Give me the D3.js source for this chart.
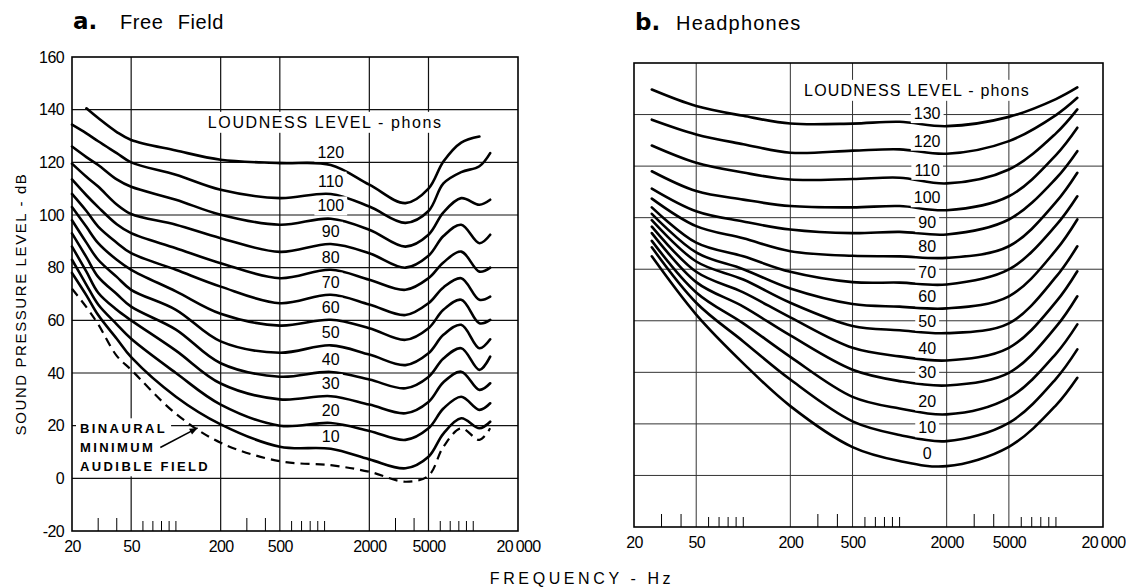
<!DOCTYPE html>
<html>
<head>
<meta charset="utf-8">
<title>Equal loudness contours</title>
<script src="https://cdnjs.cloudflare.com/ajax/libs/d3/7.8.5/d3.min.js"></script>
<style>
  html, body { margin: 0; padding: 0; background: #fff; }
  svg { display: block; }
</style>
</head>
<body>
<svg id="chart" width="1126" height="588"></svg>
<script>
// frequency axis
const tickFreqs = [20, 50, 200, 500, 2000, 5000, 20000];
const tickLabels = ["20", "50", "200", "500", "2000", "5000", "20\u2009000"];
const gridFreqs = [50, 200, 500, 2000, 5000];
const minorFreqs = [30, 40, 60, 70, 80, 90, 100, 300, 400, 600, 700, 800, 900, 1000,
                    3000, 4000, 6000, 7000, 8000, 9000, 10000];
const tallMinor = [30, 40, 300, 400, 3000, 4000];
const dbTicks = [160, 140, 120, 100, 80, 60, 40, 20, 0, -20];

// a. free field - dB SPL at these frequencies
const freqA = [20, 25, 30, 40, 50, 100, 200, 500, 1100, 2000, 3500, 5000, 6300, 8300, 11000, 13000];
const phonsA = [120, 110, 100, 90, 80, 70, 60, 50, 40, 30, 20, 10];
const levelsA = [
  [null, 140.5, 136.8, 131.5, 128.5, 124.5, 121, 119.7, 119, 111.5, 104.5, 110, 120.3, 127.5, 129.8, null],
  [134.3, 131, 128, 123.5, 120, 115.3, 109.6, 106.4, 108, 103.2, 97, 101.5, 112, 116.3, 118.5, 123.5],
  [126, 122, 119, 113.5, 110.7, 105.8, 100.1, 96.3, 98.6, 94.4, 88, 92.5, 101, 106.4, 103.9, 105.8],
  [119.5, 114.5, 110.8, 104, 100.4, 96.3, 91.2, 86, 89, 85.5, 80, 84.5, 92, 96.3, 89.3, 92.5],
  [113.5, 107.5, 103, 96.5, 93.1, 87.4, 81.7, 76, 79.2, 75.4, 71.6, 76, 82, 86.1, 78.5, 80],
  [108, 101.5, 95.6, 89.5, 85.5, 79.2, 72.8, 66.5, 69.7, 66, 62, 66.5, 72.5, 76, 67.8, 69],
  [103, 95.5, 89.3, 83, 79.2, 71, 62.5, 58, 60.2, 57, 52.6, 57, 64, 67.8, 58.9, 60.2],
  [98, 89.5, 83, 76.5, 71.6, 64, 52, 47.7, 50.5, 47, 43, 47.5, 54.5, 58.3, 49.4, 52.8],
  [93, 84, 76.5, 70, 65.2, 56.5, 43.7, 38.6, 40.4, 37.5, 34.2, 38.5, 45.5, 49.4, 41.2, 46.2],
  [88, 78.5, 70.5, 64, 60, 48.5, 36, 30, 31.2, 28, 24.7, 29, 36.5, 40.5, 33.6, 36.1],
  [83, 73.5, 66, 58.5, 53, 40, 28, 20, 21, 18, 14.6, 19, 26.5, 31, 26, 28.5],
  [78, 69.5, 62, 53, 46, 31, 20.5, 12, 11.2, 7.2, 3.8, 8.2, 17, 22.8, 19, 21.5]
];
// binaural minimum audible field (dashed)
const mafA = [72, 65, 58.5, 46.5, 41.2, 24.5, 13.5, 6.5, 5, 2.5, -1.3, 1, 12, 19, 14.6, 19];

// b. headphones
const freqB = [26, 50, 100, 200, 500, 1000, 2000, 5000, 10000, 13700];
const phonsB = [130, 120, 110, 100, 90, 80, 70, 60, 50, 40, 30, 20, 10, 0];
const levelsB = [
  [149.7, 143.3, 139.5, 136.5, 136.5, 137.2, 135.5, 139.1, 146, 150.5],
  [138, 132.3, 128.5, 125.2, 126, 126.5, 124.8, 129.7, 139.8, 146.5],
  [128, 121.3, 117.5, 114.8, 115, 115.5, 113.3, 118.7, 132.7, 142],
  [118, 110.3, 107, 104.5, 104, 104.5, 102.9, 108.3, 124.3, 134.9],
  [111.3, 102.5, 98.5, 95.4, 94, 94.5, 93.5, 99.3, 115.2, 125.8],
  [107.4, 96.7, 92, 87, 85.2, 85, 84.4, 88.9, 106, 117.4],
  [104, 90.3, 85, 79, 75, 74.8, 74.1, 79.9, 97, 108.3],
  [101.5, 86.5, 80, 72.5, 66.5, 65.5, 64.8, 69.5, 87.4, 99.3],
  [99, 83, 76, 67, 58, 56.3, 55.2, 59, 77, 88.9],
  [96.5, 79, 71, 61.3, 49.5, 46.2, 44.6, 49.5, 67.3, 79.2],
  [94, 75, 65.5, 54.3, 41, 36.6, 34.9, 39.8, 57.6, 69.5],
  [91, 71, 59, 46, 30.5, 26, 23.7, 30.1, 47.2, 58.6],
  [88.5, 67, 52, 37.2, 21, 15.7, 13.3, 20.4, 37.5, 48.9],
  [85, 62.4, 43.5, 26.9, 11, 5.6, 3.6, 11.1, 27.2, 37.9]
];

const svg = d3.select("#chart");
const sans = "'Liberation Sans', Arial, sans-serif";
const narrow = "'Liberation Sans Narrow', 'Liberation Sans', sans-serif";

svg.append("rect").attr("width", 1126).attr("height", 588).attr("fill", "#fff");

svg.append("defs").append("marker")
  .attr("id", "arrow")
  .attr("viewBox", "0 -5 10 10")
  .attr("refX", 10).attr("refY", 0)
  .attr("markerWidth", 11).attr("markerHeight", 8)
  .attr("markerUnits", "userSpaceOnUse")
  .attr("orient", "auto")
  .append("path").attr("d", "M0,-4L10,0L0,4Z").attr("fill", "#000");

// linear interpolation in log-frequency, used to sit labels on the curves
function valueAt(freqs, vals, f) {
  const lf = Math.log10(f);
  for (let i = 0; i < freqs.length - 1; i++) {
    const a = Math.log10(freqs[i]), b = Math.log10(freqs[i + 1]);
    if (lf >= a && lf <= b && vals[i] != null && vals[i + 1] != null) {
      return vals[i] + (lf - a) / (b - a) * (vals[i + 1] - vals[i]);
    }
  }
  return null;
}

// white box behind a text so the grid is broken around it
function labelBox(g, text, padX, padY) {
  const b = text.node().getBBox();
  g.insert("rect", () => text.node())
    .attr("x", b.x - padX).attr("y", b.y - padY)
    .attr("width", b.width + 2 * padX).attr("height", b.height + 2 * padY)
    .attr("fill", "#fff");
}

const smooth = d3.curveCatmullRom.alpha(0.5);

function drawPanel(p) {
  const x = p.x, y = p.y;
  const g = svg.append("g");
  const x0 = x(20), x1 = x(20000), yTop = y(160), yBot = y(-20);

  const grid = g.append("g").attr("stroke", p.gridColor).attr("stroke-width", p.gridWidth);
  grid.selectAll(".h").data(dbTicks.filter(d => d > -20 && d < 160)).join("line")
    .attr("class", "h")
    .attr("x1", x0).attr("x2", x1)
    .attr("y1", d => y(d)).attr("y2", d => y(d));
  grid.selectAll(".v").data(gridFreqs).join("line")
    .attr("class", "v")
    .attr("x1", d => x(d)).attr("x2", d => x(d))
    .attr("y1", yTop).attr("y2", yBot);

  g.append("g").attr("stroke", "#000").attr("stroke-width", 1)
    .selectAll("line").data(minorFreqs).join("line")
    .attr("x1", d => x(d)).attr("x2", d => x(d))
    .attr("y1", yBot).attr("y2", d => yBot - (tallMinor.includes(d) ? 13 : 10));

  g.append("rect")
    .attr("x", x0).attr("y", yTop)
    .attr("width", x1 - x0).attr("height", yBot - yTop)
    .attr("fill", "none").attr("stroke", "#000").attr("stroke-width", 1.6);

  g.append("g")
    .attr("transform", `translate(0,${yBot})`)
    .call(d3.axisBottom(x).tickValues(tickFreqs).tickFormat((d, i) => tickLabels[i]).tickSize(0).tickPadding(10))
    .call(a => a.select(".domain").remove())
    .attr("font-family", sans).attr("font-size", 16).attr("letter-spacing", -0.6);

  const line = d3.line()
    .defined(d => d[1] != null)
    .x(d => x(d[0])).y(d => y(d[1]))
    .curve(smooth);

  g.append("g").selectAll("path").data(p.levels).join("path")
    .attr("d", vals => line(p.freqs.map((f, i) => [f, vals[i]])))
    .attr("fill", "none").attr("stroke", "#000")
    .attr("stroke-width", 2.6).attr("stroke-linejoin", "round").attr("stroke-linecap", "round");

  const cap = g.append("text")
    .attr("x", x(p.capAt[0])).attr("y", y(p.capAt[1])).attr("dy", "0.36em")
    .attr("font-family", sans).attr("font-size", 16).attr("letter-spacing", p.capSpacing)
    .text("LOUDNESS LEVEL - phons");
  labelBox(g, cap, 3, 2);

  p.phons.forEach((ph, i) => {
    const v = valueAt(p.freqs, p.levels[i], p.labelFreq);
    const t = g.append("text")
      .attr("x", x(p.labelFreq)).attr("y", y(v) - p.labelGap).attr("dy", "0.36em")
      .attr("text-anchor", "middle")
      .attr("font-family", narrow).attr("font-size", 16)
      .text(ph);
    labelBox(g, t, 3, 1);
  });
  return g;
}

// ---- panel a ----
const xA = d3.scaleLog().domain([20, 20000]).range([72, 518]);
const yA = d3.scaleLinear().domain([-20, 160]).range([531, 57]);
const gA = drawPanel({
  x: xA, y: yA, freqs: freqA, levels: levelsA, phons: phonsA,
  labelFreq: 1100, labelGap: 13, capAt: [164, 135.3], capSpacing: 1.6,
  gridColor: "#111", gridWidth: 1.2
});

gA.append("g")
  .attr("transform", `translate(${xA(20)},0)`)
  .call(d3.axisLeft(yA).tickValues(dbTicks).tickFormat(d => String(d)).tickSize(0).tickPadding(8))
  .call(a => a.select(".domain").remove())
  .attr("font-family", sans).attr("font-size", 16).attr("letter-spacing", -0.6);

const mafLine = d3.line()
  .x((d, i) => xA(freqA[i])).y(d => yA(d))
  .curve(smooth);
gA.append("path")
  .attr("d", mafLine(mafA))
  .attr("fill", "none").attr("stroke", "#000")
  .attr("stroke-width", 2.2).attr("stroke-dasharray", "9,6");

// annotation for the dashed curve
const noteLines = ["BINAURAL", "MINIMUM", "AUDIBLE FIELD"];
const noteG = gA.append("g");
const noteTexts = noteLines.map((s, i) => {
  const cy = yA(19) + i * 19;
  const t = noteG.append("text")
    .attr("x", xA(20) + 8).attr("y", cy).attr("dy", "0.36em")
    .attr("font-family", sans).attr("font-size", 13).attr("font-weight", "bold")
    .attr("letter-spacing", 2.4)
    .text(s);
  const b = t.node().getBBox();
  noteG.insert("rect", () => t.node())
    .attr("x", b.x - 4).attr("y", cy - 10)
    .attr("width", b.width + 8).attr("height", Math.min(20, yA(0) - 1 - (cy - 10)))
    .attr("fill", "#fff");
  return t;
});
const mb = noteTexts[1].node().getBBox();
gA.append("line")
  .attr("x1", mb.x + mb.width + 5).attr("y1", mb.y + mb.height / 2)
  .attr("x2", xA(140)).attr("y2", yA(valueAt(freqA, mafA, 140)))
  .attr("stroke", "#000").attr("stroke-width", 1.6)
  .attr("marker-end", "url(#arrow)");

// ---- panel b ----
const xB = d3.scaleLog().domain([20, 20000]).range([634, 1103]);
const yB = d3.scaleLinear().domain([-20, 160]).range([527, 63]);
drawPanel({
  x: xB, y: yB, freqs: freqB, levels: levelsB, phons: phonsB,
  labelFreq: 1500, labelGap: 11, capAt: [245, 149.5], capSpacing: 1.2,
  gridColor: "#333", gridWidth: 1
});

// ---- titles ----
svg.append("text").attr("x", 73).attr("y", 29)
  .attr("font-family", "'DejaVu Sans', sans-serif").attr("font-size", 23).attr("font-weight", "bold")
  .text("a.");
svg.append("text").attr("x", 120).attr("y", 29)
  .attr("font-family", sans).attr("font-size", 20).attr("word-spacing", 8).attr("letter-spacing", 0.6)
  .text("Free Field");
svg.append("text").attr("x", 635).attr("y", 30)
  .attr("font-family", "'DejaVu Sans', sans-serif").attr("font-size", 23).attr("font-weight", "bold")
  .text("b.");
svg.append("text").attr("x", 676).attr("y", 30)
  .attr("font-family", sans).attr("font-size", 20).attr("letter-spacing", 1.2)
  .text("Headphones");

svg.append("text")
  .attr("transform", "translate(26,304) rotate(-90)")
  .attr("text-anchor", "middle")
  .attr("font-family", sans).attr("font-size", 15).attr("letter-spacing", 1.6)
  .text("SOUND PRESSURE LEVEL - dB");

svg.append("text")
  .attr("x", 582).attr("y", 584)
  .attr("text-anchor", "middle")
  .attr("font-family", sans).attr("font-size", 16).attr("letter-spacing", 3.6)
  .text("FREQUENCY - Hz");
</script>
</body>
</html>
